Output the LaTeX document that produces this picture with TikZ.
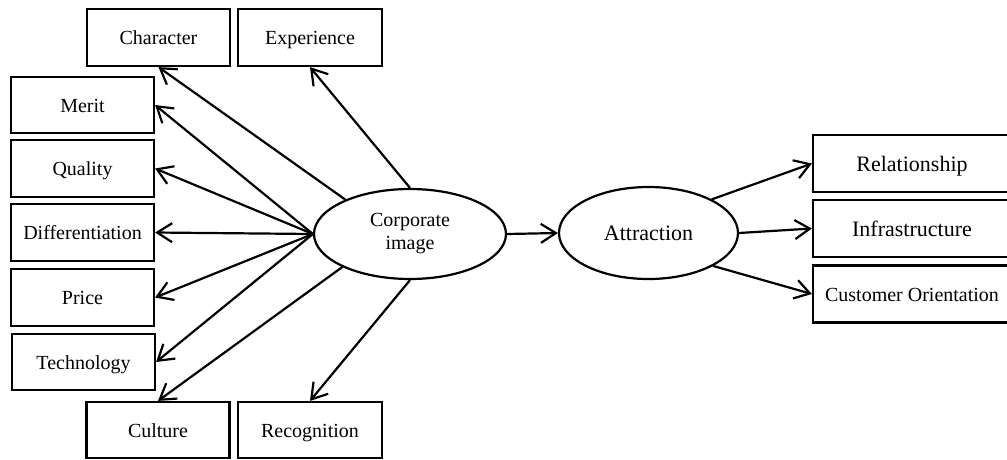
\documentclass[tikz,border=0pt]{standalone}
\usepackage{fontspec}
\setmainfont{Liberation Serif}
\usetikzlibrary{arrows.meta,shapes.geometric}
\tikzset{
  box/.style={draw, line width=2.2pt, minimum width=143pt, minimum height=57pt, inner sep=0pt, text height=18pt, text depth=4pt, font=\fontsize{20}{23}\selectfont},
  rbox/.style={box, minimum width=198pt},
  bigtext/.style={font=\fontsize{22}{26}\selectfont, text height=19.5pt, text depth=4.5pt},
  oval/.style={draw, ellipse, line width=2.2pt, inner sep=0pt, align=center},
  arr/.style={line width=2.2pt, -{Straight Barb[length=15pt,width=19pt]}}
}
\begin{document}
\begin{tikzpicture}[x=1pt,y=-1pt]
\useasboundingbox (0,0) rectangle (1007,459);
\node[box] (char) at (158.5,37.5) {Character};
\node[box, minimum width=144pt] (exp) at (310,37.5) {Experience};
\node[box, minimum height=56pt] (merit) at (82.5,105) {Merit};
\node[box] (qual) at (82.5,168.5) {Quality};
\node[box] (diff) at (82.5,232.5) {Differentiation};
\node[box] (price) at (82.5,297.5) {Price};
\node[box, minimum height=56pt] (tech) at (83.5,362) {Technology};
\node[box, minimum height=56pt] (cult) at (158,430) {Culture};
\node[box, minimum width=144pt, minimum height=56pt] (recog) at (310,430) {Recognition};
\node[oval, minimum width=192pt, minimum height=90pt, font=\fontsize{20}{23}\selectfont] (corp) at (410,234) {Corporate\\image};
\node[oval, minimum width=179pt, minimum height=92pt, font=\fontsize{22}{26}\selectfont] (attr) at (648.5,233) {Attraction};
\node[rbox, bigtext] (rel) at (912,163.5) {Relationship};
\node[rbox, bigtext] (infra) at (912,228.5) {Infrastructure};
\node[rbox] (cust) at (912,294) {Customer Orientation};
\draw[arr] (corp.152) -- (char.south);
\draw[arr] (corp.north) -- (exp.south);
\draw[arr] (corp.west) -- (merit.east);
\draw[arr] (corp.west) -- (qual.east);
\draw[arr] (corp.west) -- (diff.east);
\draw[arr] (corp.west) -- (price.east);
\draw[arr] (corp.west) -- (tech.east);
\draw[arr] (corp.206) -- (cult.north);
\draw[arr] (corp.south) -- (recog.north);
\draw[arr] (corp.east) -- (attr.west);
\draw[arr] (attr.28) -- (rel.west);
\draw[arr] (attr.east) -- (infra.west);
\draw[arr] (attr.-27) -- (cust.west);
\end{tikzpicture}
\end{document}
